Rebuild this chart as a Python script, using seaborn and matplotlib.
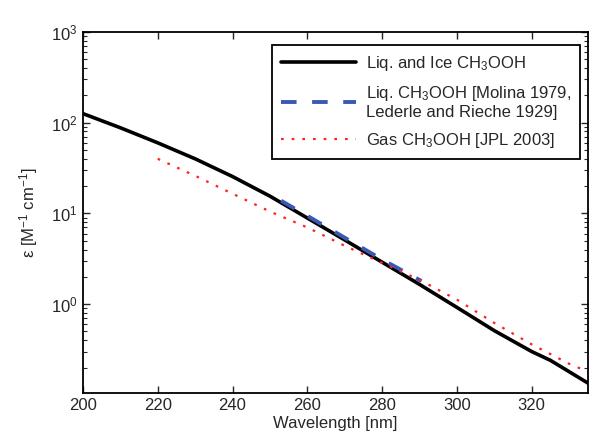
import seaborn as sns
import matplotlib.pyplot as plt
import pandas as pd

## values
liq_ice_wl = [200, 210, 220, 230, 240, 250, 260, 270, 280, 290, 300, 310, 320, 325, 330, 335]
liq_ice_eps = [126, 88, 60, 40, 25.5, 15.5, 8.9, 5.1, 2.9, 1.65, 0.92, 0.51, 0.30, 0.24, 0.18, 0.135]

molina_wl = [253, 260, 270, 280, 290.5]
molina_eps = [13.8, 9.4, 5.4, 3.1, 1.8]

gas_wl = [220, 230, 240, 250, 260, 270, 280, 290, 300, 310, 320, 330, 335]
gas_eps = [40, 26, 16.5, 10.5, 7.0, 4.4, 2.85, 1.85, 1.12, 0.62, 0.36, 0.22, 0.18]

labels = ['Liq. and Ice CH$_3$OOH',
          'Liq. CH$_3$OOH [Molina 1979,\nLederle and Rieche 1929]',
          'Gas CH$_3$OOH [JPL 2003]']

sns.set_style('ticks')
plt.rcParams['font.family'] = ['Liberation Sans', 'DejaVu Sans']
plt.rcParams['mathtext.fontset'] = 'custom'
plt.rcParams['mathtext.rm'] = 'Liberation Sans'
plt.rcParams['mathtext.it'] = 'Liberation Sans:italic'
plt.rcParams['mathtext.default'] = 'regular'
plt.rcParams['xtick.direction'] = 'in'
plt.rcParams['ytick.direction'] = 'in'

liq_ice_df = pd.DataFrame({'wl': liq_ice_wl, 'eps': liq_ice_eps})
molina_df = pd.DataFrame({'wl': molina_wl, 'eps': molina_eps})
gas_df = pd.DataFrame({'wl': gas_wl, 'eps': gas_eps})

fig = plt.figure(figsize=(5.92, 4.44), dpi=100)
ax = fig.add_axes([0.140, 0.115, 0.853, 0.813])

sns.lineplot(data=liq_ice_df, x='wl', y='eps', ax=ax, color='black', linewidth=2.6, label=labels[0])
sns.lineplot(data=molina_df, x='wl', y='eps', ax=ax, color='#3a58b4', linewidth=2.8,
             linestyle=(0, (4, 4)), label=labels[1])
sns.lineplot(data=gas_df, x='wl', y='eps', ax=ax, color='#ff2222', linewidth=1.6,
             linestyle=(0, (1.2, 3.6)), label=labels[2])

ax.set_yscale('log')
ax.set_xlim(200, 335)
ax.set_ylim(0.105, 1000)
ax.set_xticks([200, 220, 240, 260, 280, 300, 320])
ax.set_xlabel('Wavelength [nm]', fontsize=12, labelpad=2)
ax.set_ylabel('ε [M$^{-1}$ cm$^{-1}$]', fontsize=12, labelpad=8)
ax.tick_params(axis='both', which='major', labelsize=12, length=5, width=1,
               top=True, right=True)
ax.tick_params(axis='y', which='minor', length=3, width=0.8, right=True)
for sp in ax.spines.values():
    sp.set_linewidth(1.3)
    sp.set_color('black')

leg = ax.legend(loc='upper right', bbox_to_anchor=(0.985, 0.965), borderaxespad=0,
                fontsize=12, frameon=True, fancybox=False, framealpha=1, edgecolor='black',
                handlelength=4.5, labelspacing=0.65, borderpad=0.55, handletextpad=0.6)
leg.get_frame().set_linewidth(1.3)

fig.savefig('out.png', dpi=100)
